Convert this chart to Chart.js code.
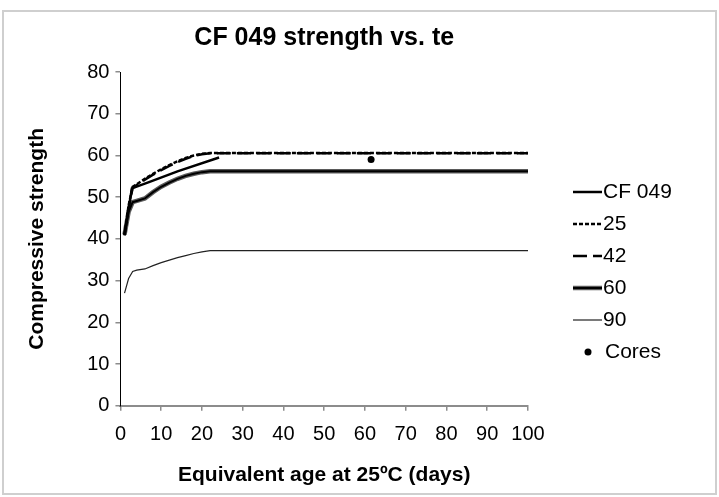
<!DOCTYPE html>
<html>
<head>
<meta charset="utf-8">
<title>CF 049 strength vs. te</title>
<script src="https://cdn.jsdelivr.net/npm/chart.js@4.4.1/dist/chart.umd.min.js"></script>
<style>
    body { margin: 0; background: #fff; }
    #chartBox { width: 719px; height: 497px; }
</style>
</head>
<body>
<div id="chartBox"><canvas id="strengthChart"></canvas></div>
<script>

// equivalent age (days) for the maturity curves
const curveAges = [1, 2, 3, 4, 6, 8, 10, 12, 14, 16, 18, 20, 22, 24, 100];
const strength25 = [41, 48, 52.5, 53.1, 54.4, 55.6, 56.7, 57.7, 58.6, 59.4, 60.0, 60.4, 60.6, 60.6, 60.6];
const strength42 = [41, 47.6, 52.2, 52.9, 54.2, 55.4, 56.5, 57.5, 58.4, 59.2, 59.9, 60.3, 60.5, 60.5, 60.5];
const strength60 = [41, 46.5, 48.8, 49.1, 49.7, 51.2, 52.5, 53.5, 54.4, 55.1, 55.6, 56.0, 56.2, 56.2, 56.2];
const strength90 = [27, 30.5, 32.2, 32.5, 32.8, 33.6, 34.3, 34.9, 35.5, 36.0, 36.5, 36.9, 37.2, 37.2, 37.2];

// measured cylinders
const cf049Ages = [1, 2.8, 7, 14, 24.2];
const cf049Strength = [40.8, 52.1, 53.6, 56.2, 59.5];

// cores
const coreAges = [61.5];
const coreStrength = [59.0];

const xTicks = [0, 10, 20, 30, 40, 50, 60, 70, 80, 90, 100];
const yTicks = [0, 10, 20, 30, 40, 50, 60, 70, 80];

const fontName = "'Liberation Sans', Arial, sans-serif";

function toPoints(ages, values) {
    return ages.map((age, i) => ({ x: age, y: values[i] }));
}

// light grey frame round the whole chart
const framePlugin = {
    id: 'frame',
    beforeDraw(chart) {
        const ctx = chart.ctx;
        ctx.save();
        ctx.fillStyle = '#fff';
        ctx.fillRect(0, 0, chart.width, chart.height);
        ctx.strokeStyle = '#cfcfcf';
        ctx.lineWidth = 2;
        ctx.strokeRect(3, 11, chart.width - 6, chart.height - 14);
        ctx.restore();
    }
};

// excel style legend: line sample right next to the label
const sideLegend = {
    id: 'sideLegend',
    afterDraw(chart) {
        const ctx = chart.ctx;
        let y = 192;
        ctx.save();
        ctx.font = '21px ' + fontName;
        ctx.textBaseline = 'middle';
        ctx.fillStyle = '#000';
        chart.data.datasets.forEach(ds => {
            if (ds.hideInLegend) return;
            if (ds.showLine === false) {
                ctx.beginPath();
                ctx.arc(588, y, 3.5, 0, Math.PI * 2);
                ctx.fill();
                ctx.fillText(ds.label, 605, y);
            } else {
                const layers = ds.legendLayers || [ds];
                layers.forEach(l => {
                    ctx.beginPath();
                    ctx.setLineDash(l.borderDash || []);
                    ctx.strokeStyle = l.borderColor;
                    ctx.lineWidth = l.borderWidth;
                    ctx.moveTo(573, y);
                    ctx.lineTo(602, y);
                    ctx.stroke();
                });
                ctx.setLineDash([]);
                ctx.fillText(ds.label, 603, y);
            }
            y += 32;
        });
        ctx.restore();
    }
};

const line60Outer = { borderColor: '#5a5a5a', borderWidth: 4.5 };
const line60Inner = { borderColor: '#000', borderWidth: 2 };

const datasets = [
    {
        label: 'CF 049',
        data: toPoints(cf049Ages, cf049Strength),
        borderColor: '#000',
        borderWidth: 2.5,
        order: 1
    },
    {
        label: '25',
        data: toPoints(curveAges, strength25),
        borderColor: '#000',
        borderWidth: 2.5,
        borderDash: [4, 2],
        order: 2
    },
    {
        label: '42',
        data: toPoints(curveAges, strength42),
        borderColor: '#000',
        borderWidth: 2.5,
        borderDash: [14, 6],
        order: 3
    },
    {
        label: '60',
        data: toPoints(curveAges, strength60),
        borderColor: line60Outer.borderColor,
        borderWidth: line60Outer.borderWidth,
        legendLayers: [line60Outer, line60Inner],
        order: 5
    },
    {
        label: '60 inner',
        data: toPoints(curveAges, strength60),
        borderColor: line60Inner.borderColor,
        borderWidth: line60Inner.borderWidth,
        hideInLegend: true,
        order: 4
    },
    {
        label: '90',
        data: toPoints(curveAges, strength90),
        borderColor: '#222',
        borderWidth: 1.2,
        order: 6
    },
    {
        label: 'Cores',
        data: toPoints(coreAges, coreStrength),
        showLine: false,
        pointRadius: 3.5,
        pointBackgroundColor: '#000',
        pointBorderWidth: 0,
        order: 0
    }
];

datasets.forEach(ds => {
    ds.fill = false;
    ds.tension = 0;
    if (ds.showLine !== false) ds.pointRadius = 0;
});

const strengthChart = new Chart(document.getElementById('strengthChart'), {
    type: 'line',
    data: { datasets: datasets },
    plugins: [framePlugin, sideLegend],
    options: {
        responsive: true,
        maintainAspectRatio: false,
        animation: false,
        layout: {
            padding: { left: 10, right: 191, top: 0, bottom: 9 }
        },
        plugins: {
            legend: { display: false },
            tooltip: { enabled: false },
            title: {
                display: true,
                text: 'CF 049 strength vs. te',
                fullSize: false,
                color: '#000',
                font: { family: fontName, size: 25, weight: 'bold' },
                padding: { top: 23, bottom: 19 }
            }
        },
        scales: {
            x: {
                type: 'linear',
                min: 0,
                max: 100,
                afterBuildTicks: axis => { axis.ticks = xTicks.map(v => ({ value: v })); },
                grid: { drawOnChartArea: false, drawTicks: true, tickLength: 5, color: '#8c8c8c', lineWidth: 1.5 },
                border: { color: '#8c8c8c', width: 2 },
                ticks: { color: '#000', padding: 12, maxRotation: 0, font: { family: fontName, size: 20 } },
                title: {
                    display: true,
                    text: 'Equivalent age at 25ºC (days)',
                    color: '#000',
                    font: { family: fontName, size: 21, weight: 'bold' },
                    padding: { top: 4, bottom: 0 }
                }
            },
            y: {
                min: 0,
                max: 80,
                afterBuildTicks: axis => { axis.ticks = yTicks.map(v => ({ value: v })); },
                grid: { drawOnChartArea: false, drawTicks: true, tickLength: 5, color: '#8c8c8c', lineWidth: 1.5 },
                border: { color: '#000', width: 1 },
                ticks: { color: '#000', padding: 6, font: { family: fontName, size: 20 } },
                title: {
                    display: true,
                    text: 'Compressive strength',
                    color: '#000',
                    font: { family: fontName, size: 21, weight: 'bold' },
                    padding: { top: 15, bottom: 31 }
                }
            }
        }
    }
});
</script>
</body>
</html>
